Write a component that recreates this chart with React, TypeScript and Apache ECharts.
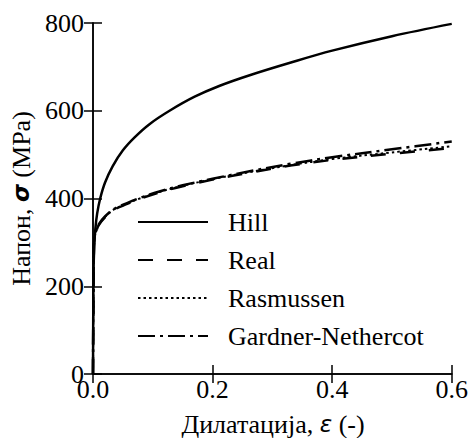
import React, { useEffect, useRef } from "react";
import * as echarts from "echarts";

const xTicks = [0, 0.2, 0.4, 0.6];
const yTicks = [0, 200, 400, 600, 800];

const seriesNames = ["Hill", "Real", "Rasmussen", "Gardner-Nethercot"];

const strainHill = [0, 0.0008, 0.002, 0.004, 0.007, 0.012, 0.02, 0.033, 0.05, 0.07, 0.095, 0.128, 0.17, 0.212, 0.262, 0.331, 0.4, 0.5, 0.6];
const stressHill = [0, 220, 290, 332, 366, 400, 436, 474, 510, 540, 570, 600, 632, 657, 681, 710, 737, 770, 798];

const strainLow = [0, 0.0015, 0.003, 0.006, 0.01, 0.02, 0.035, 0.056, 0.08, 0.111, 0.15, 0.2, 0.262, 0.33, 0.4, 0.5, 0.6];
const stressReal = [0, 290, 312, 328, 340, 357, 374, 387, 400, 414, 428, 443, 459, 475, 488, 502, 515];
const stressRasmussen = [0, 290, 313, 329, 341, 358, 375, 388, 401, 415, 429, 444, 460, 476, 490, 505, 519];
const stressGardner = [0, 292, 314, 330, 342, 359, 376, 389, 402, 416, 430, 445, 462, 479, 494, 512, 530];

const zip = (xs: number[], ys: number[]) => xs.map((x, i) => [x, ys[i]]);

const FONT = "'Liberation Serif', 'Times New Roman', Times, serif";

export default function App() {
  const ref = useRef<HTMLDivElement>(null);
  useEffect(() => {
    if (!ref.current) return;
    const chart = echarts.init(ref.current, null, { renderer: "svg" });
    const axisLine = { show: true, lineStyle: { color: "#000", width: 1.5 } };
    const axisTick = { show: true, inside: true, length: 9, lineStyle: { color: "#000", width: 1.5 } };
    const lineBase = { type: "line", symbol: "none", showSymbol: false, smooth: 0.35, animation: false };
    chart.setOption({
      animation: false,
      backgroundColor: "#fff",
      grid: { left: 93, right: 18, top: 23, bottom: 64 },
      xAxis: [
        {
          type: "value", min: 0, max: 0.6, interval: 0.2,
          axisLine, axisTick, splitLine: { show: false },
          axisLabel: { color: "#000", fontFamily: FONT, fontSize: 26, margin: 2, formatter: (v: number) => v.toFixed(1) },
        },
        {
          type: "value", position: "top", min: 0, max: 0.6, interval: 0.2,
          axisLine, axisTick, splitLine: { show: false }, axisLabel: { show: false },
        },
      ],
      yAxis: [
        {
          type: "value", min: 0, max: 800, interval: 200,
          axisLine, axisTick, splitLine: { show: false },
          axisLabel: { color: "#000", fontFamily: FONT, fontSize: 26, margin: 9 },
        },
        {
          type: "value", position: "right", min: 0, max: 800, interval: 200,
          axisLine, axisTick, splitLine: { show: false }, axisLabel: { show: false },
        },
      ],
      legend: {
        orient: "vertical",
        left: 132,
        top: 204,
        itemWidth: 70,
        itemHeight: 14,
        itemGap: 12,
        data: seriesNames,
        itemStyle: { opacity: 0 },
        textStyle: { color: "#000", fontFamily: FONT, fontSize: 26, lineHeight: 26, padding: [0, 0, 0, 15] },
      },
      graphic: [
        {
          type: "text",
          x: 273, y: 424,
          style: {
            text: "Дилатација, {g|ε} (-)",
            fontFamily: FONT,
            fontSize: 26,
            fill: "#000",
            align: "center",
            verticalAlign: "middle",
            rich: { g: { fontFamily: "'DejaVu Sans', sans-serif", fontStyle: "italic", fontSize: 23, fill: "#000" } },
          },
        },
        {
          type: "text",
          x: 21, y: 198.5,
          rotation: Math.PI / 2,
          style: {
            text: "Напон, {g|σ} (MPa)",
            fontFamily: FONT,
            fontSize: 26,
            fill: "#000",
            align: "center",
            verticalAlign: "middle",
            rich: { g: { fontFamily: "'DejaVu Sans', sans-serif", fontStyle: "italic", fontWeight: "bold", fontSize: 23, fill: "#000" } },
          },
        },
      ],
      series: [
        { ...lineBase, name: seriesNames[0], data: zip(strainHill, stressHill), lineStyle: { color: "#000", width: 2.5, type: "solid" }, itemStyle: { color: "#000" } },
        { ...lineBase, name: seriesNames[1], data: zip(strainLow, stressReal), lineStyle: { color: "#000", width: 2.5, type: [15, 14] }, itemStyle: { color: "#000" } },
        { ...lineBase, name: seriesNames[2], data: zip(strainLow, stressRasmussen), lineStyle: { color: "#000", width: 2, type: [2.5, 3] }, itemStyle: { color: "#000" } },
        { ...lineBase, name: seriesNames[3], data: zip(strainLow, stressGardner), lineStyle: { color: "#000", width: 2.5, type: [17, 5, 3, 5] }, itemStyle: { color: "#000" } },
      ],
    });
    return () => chart.dispose();
  }, []);
  return <div ref={ref} style={{ position: "fixed", left: 0, top: 0, width: 471, height: 438 }} />;
}
